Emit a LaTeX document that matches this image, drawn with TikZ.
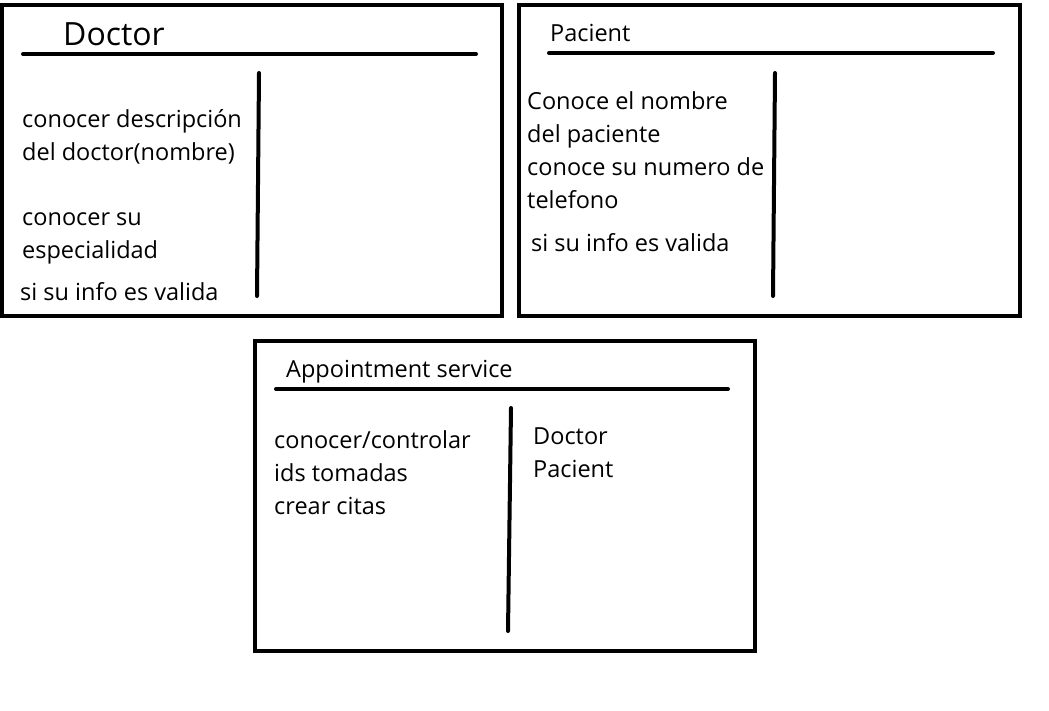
\documentclass[tikz,border=0pt]{standalone}
\usepackage{fontspec}
\setmainfont{Open Sans}
\begin{document}
\begin{tikzpicture}[x=1pt,y=-1pt,
  card/.style={draw=black,line width=4pt},
  rule/.style={draw=black,line width=4pt,line cap=round},
  txt/.style={anchor=base west,inner sep=0pt,font=\fontsize{23.5}{28}\selectfont},
  ttl/.style={anchor=base west,inner sep=0pt,font=\fontsize{23.5}{28}\selectfont}]
\useasboundingbox (0,0) rectangle (1049,710);
% Doctor card
\draw[card] (2,5) rectangle (502,316);
\node[ttl,font=\fontsize{32}{38}\selectfont] (dt) at (63,45) {Doctor};
\coordinate (d1) at (23,54); \coordinate (d2) at (476,54);
\draw[rule] (d1) -- (d2);
\coordinate (dv1) at (259,73); \coordinate (dv2) at (257,296);
\draw[rule] (dv1) -- (dv2);
\node[txt] (da) at (22,127) {conocer descripción};
\node[txt] (db) at (22,160) {del doctor(nombre)};
\node[txt] (dc) at (22,225) {conocer su};
\node[txt] (dd) at (22,258) {especialidad};
\node[txt] (de) at (20,300) {si su info es valida};
% Pacient card
\draw[card] (519,5) rectangle (1020,316);
\node[ttl] (pt) at (550,41) {Pacient};
\coordinate (p1) at (549,53); \coordinate (p2) at (993,53);
\draw[rule] (p1) -- (p2);
\coordinate (pv1) at (775,73); \coordinate (pv2) at (773,296);
\draw[rule] (pv1) -- (pv2);
\node[txt] (pa) at (527,109) {Conoce el nombre};
\node[txt] (pb) at (527,142) {del paciente};
\node[txt] (pc) at (527,175) {conoce su numero de};
\node[txt] (pd) at (527,208) {telefono};
\node[txt] (pe) at (531,251) {si su info es valida};
% Appointment card
\draw[card] (255,341) rectangle (755,651);
\node[ttl] (at) at (286,377) {Appointment service};
\coordinate (a1) at (276,389); \coordinate (a2) at (728,389);
\draw[rule] (a1) -- (a2);
\coordinate (av1) at (511,408); \coordinate (av2) at (508,631);
\draw[rule] (av1) -- (av2);
\node[txt] (aa) at (274,448) {conocer/controlar};
\node[txt] (ab) at (274,481) {ids tomadas};
\node[txt] (ac) at (274,514) {crear citas};
\node[txt] (ad) at (533,444) {Doctor};
\node[txt] (ae) at (533,477) {Pacient};
\end{tikzpicture}
\end{document}
